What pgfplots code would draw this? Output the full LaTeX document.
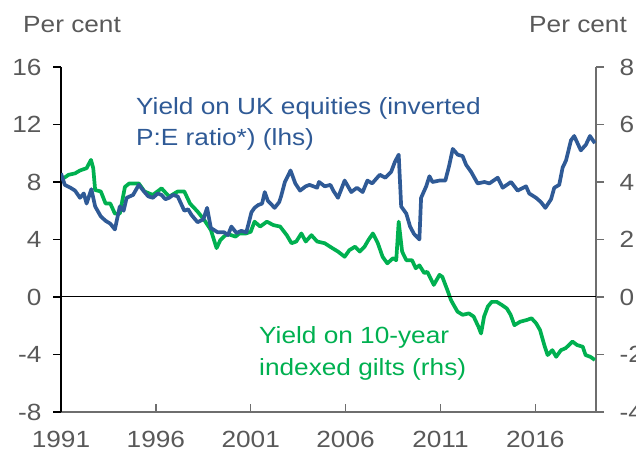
\documentclass[border=0pt]{standalone}
\usepackage{fontspec}
\setmainfont{Liberation Sans}[FakeStretch=1.12]
\usepackage{pgfplots}
\pgfplotsset{compat=1.18}
\definecolor{eqBlue}{RGB}{47,90,150}
\definecolor{giltGreen}{RGB}{0,176,80}
\definecolor{tickGrey}{RGB}{89,89,89}
\definecolor{axGrey}{RGB}{110,110,110}

\pgfplotstableread{
year  v
1991.00 8.6
1991.20 7.8
1991.50 7.6
1991.74 7.4
1992.00 6.9
1992.20 7.2
1992.35 6.5
1992.60 7.5
1992.80 6.3
1993.10 5.6
1993.35 5.3
1993.60 5.1
1993.84 4.7
1994.10 6.3
1994.30 6.0
1994.46 6.9
1994.80 7.1
1995.10 7.8
1995.40 7.3
1995.60 7.0
1995.84 6.9
1996.10 7.2
1996.30 7.1
1996.50 6.8
1996.70 6.9
1996.90 7.1
1997.15 7.0
1997.50 6.0
1997.70 6.1
1997.88 5.7
1998.20 5.2
1998.50 5.4
1998.70 6.2
1998.90 4.8
1999.26 4.5
1999.60 4.5
1999.80 4.3
1999.98 4.9
2000.25 4.45
2000.50 4.6
2000.77 4.5
2001.04 5.9
2001.20 6.2
2001.40 6.4
2001.60 6.5
2001.74 7.3
2001.90 6.7
2002.26 6.2
2002.50 6.6
2002.60 7.0
2002.80 8.0
2003.10 8.8
2003.35 7.9
2003.60 7.4
2003.90 7.7
2004.10 7.8
2004.50 7.6
2004.60 8.0
2004.90 7.7
2005.20 7.8
2005.35 7.4
2005.60 6.9
2005.95 8.1
2006.30 7.3
2006.60 7.6
2006.90 7.3
2007.15 8.1
2007.40 7.9
2007.80 8.5
2008.10 8.3
2008.40 8.7
2008.60 9.4
2008.80 9.9
2008.93 6.3
2009.20 5.8
2009.40 4.9
2009.60 4.4
2009.89 4.0
2009.98 6.9
2010.25 7.7
2010.42 8.4
2010.58 8.0
2010.95 8.1
2011.26 8.1
2011.47 9.2
2011.65 10.3
2011.91 9.9
2012.17 9.8
2012.35 9.2
2012.62 8.7
2012.96 7.9
2013.32 8.0
2013.58 7.9
2014.02 8.3
2014.28 7.6
2014.72 8.0
2015.07 7.4
2015.51 7.7
2015.68 7.2
2016.04 6.9
2016.30 6.6
2016.53 6.2
2016.83 6.8
2017.00 7.6
2017.26 7.8
2017.44 9.0
2017.62 9.5
2017.88 10.9
2018.05 11.2
2018.40 10.2
2018.67 10.6
2018.88 11.2
2019.14 10.7
}\equities

\pgfplotstableread{
year  v
1991.00 4.07
1991.40 4.25
1991.74 4.30
1992.00 4.40
1992.35 4.48
1992.58 4.77
1992.70 4.48
1992.80 3.72
1993.10 3.67
1993.35 3.25
1993.60 3.25
1993.84 2.90
1994.10 2.90
1994.37 3.83
1994.60 3.95
1995.10 3.95
1995.40 3.67
1995.84 3.55
1996.30 3.78
1996.70 3.49
1997.15 3.67
1997.50 3.67
1997.80 3.25
1998.20 2.97
1998.55 2.68
1998.90 2.33
1999.20 1.70
1999.40 1.98
1999.75 2.20
2000.20 2.10
2000.40 2.21
2000.75 2.21
2001.00 2.27
2001.20 2.62
2001.50 2.45
2001.85 2.62
2002.20 2.50
2002.55 2.45
2002.90 2.15
2003.15 1.87
2003.40 1.93
2003.67 2.21
2003.90 1.93
2004.20 2.15
2004.50 1.93
2004.90 1.87
2005.30 1.70
2005.60 1.58
2005.95 1.40
2006.20 1.63
2006.50 1.75
2006.75 1.58
2007.00 1.75
2007.20 1.98
2007.44 2.21
2007.70 1.87
2007.95 1.40
2008.20 1.17
2008.50 1.35
2008.67 1.28
2008.80 2.62
2008.98 1.58
2009.20 1.28
2009.50 1.28
2009.70 1.00
2009.89 1.10
2010.15 0.83
2010.30 0.88
2010.65 0.42
2010.95 0.77
2011.10 0.70
2011.40 0.18
2011.55 -0.10
2011.70 -0.28
2011.90 -0.51
2012.17 -0.62
2012.50 -0.57
2012.75 -0.68
2013.00 -1.03
2013.14 -1.27
2013.30 -0.68
2013.50 -0.33
2013.70 -0.17
2013.97 -0.17
2014.24 -0.28
2014.50 -0.40
2014.70 -0.62
2014.90 -0.98
2015.20 -0.86
2015.55 -0.80
2015.80 -0.74
2016.05 -0.92
2016.25 -1.15
2016.50 -1.73
2016.65 -2.02
2016.90 -1.85
2017.10 -2.08
2017.35 -1.85
2017.60 -1.78
2017.96 -1.55
2018.20 -1.67
2018.50 -1.73
2018.65 -2.02
2018.90 -2.08
2019.14 -2.19
}\gilts

\begin{document}
\begin{tikzpicture}[x=1bp,y=1bp]
\pgfplotsset{every axis/.append style={
  scale only axis, width=535bp, height=345bp,
  at={(61bp,46bp)}, anchor=south west,
  xmin=1991, xmax=2019.2,
  tick label style={font=\fontsize{23.5}{26}\selectfont, text=tickGrey},
  /pgf/number format/assume math mode=true,
  major tick length=8bp,
}}
% bottom axis, ticks pointing up
\begin{axis}[
  ymin=-8, ymax=16,
  axis x line*=bottom, axis y line=none,
  axis line style={axGrey, line width=1.6bp},
  xtick={1991,1996,2001,2006,2011,2016},
  xticklabel style={yshift=-16bp},
  x tick label style={/pgf/number format/1000 sep={}},
  tick align=inside,
  xtick style={axGrey, line width=1.4bp},
]
\end{axis}
% right axis, gilts
\begin{axis}[
  ymin=-4, ymax=8, ytick={-4,-2,...,8},
  axis x line=none, axis y line*=right,
  axis line style={axGrey, line width=1.6bp},
  tick align=outside,
  ytick style={axGrey, line width=1.4bp},
  yticklabel style={xshift=12bp},
]
\addplot[giltGreen, line width=3.7bp, line join=round] table[x=year,y=v] {\gilts};
\end{axis}
% left axis, equities
\begin{axis}[
  ymin=-8, ymax=16, ytick={-8,-4,...,16},
  axis x line=none, axis y line*=left,
  axis line style={black, line width=2bp},
  tick align=outside,
  ytick style={black, line width=1.6bp},
  yticklabel style={xshift=-8bp},
]
\draw[black, line width=1bp] (axis cs:1991,0) -- (axis cs:2019.2,0);
\addplot[eqBlue, line width=3.7bp, line join=round] table[x=year,y=v] {\equities};
\end{axis}

\begin{scope}[every node/.style={inner sep=0pt, font=\fontsize{23.5}{26}\selectfont}]
\node[anchor=base west, text=tickGrey] at (23,425) {Per cent};
\node[anchor=base west, text=tickGrey] at (529,425) {Per cent};
\node[anchor=base west, text=eqBlue] at (136,343) {Yield on UK equities (inverted};
\node[anchor=base west, text=eqBlue] at (136,312) {P:E ratio*) (lhs)};
\node[anchor=base west, text=giltGreen] at (259,114) {Yield on 10-year};
\node[anchor=base west, text=giltGreen] at (259,82) {indexed gilts (rhs)};
\end{scope}

\pgfresetboundingbox
\useasboundingbox (0,0) rectangle (636,458);
\end{tikzpicture}
\end{document}
